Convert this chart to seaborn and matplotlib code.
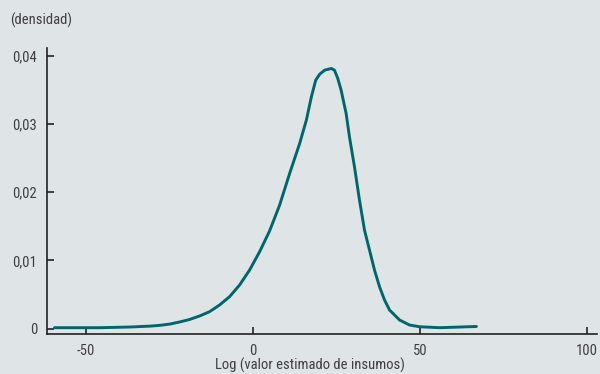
import matplotlib
matplotlib.use("Agg")
import matplotlib.pyplot as plt
import seaborn as sns
import pandas as pd
from matplotlib import font_manager

# data
x_vals = [-59.5, -46.0, -37.0, -31.0, -28.1, -25.0, -22.1, -19.1, -16.1, -13.1, -10.1,
          -7.1, -4.1, -1.1, 1.9, 4.9, 7.9, 10.9, 13.9, 15.9, 17.4, 18.7, 19.9, 21.4,
          23.4, 24.3, 25.3, 26.3, 27.8, 28.8, 30.3, 31.8, 33.3, 34.8, 36.3, 37.8,
          39.3, 40.8, 43.8, 46.8, 49.8, 55.8, 66.8]
densidad = [0.00012, 0.00012, 0.00022, 0.00035, 0.00046, 0.00065, 0.00095, 0.00132,
            0.00183, 0.00246, 0.00344, 0.00466, 0.00637, 0.00857, 0.01125, 0.01431,
            0.0181, 0.02274, 0.02714, 0.03055, 0.03396, 0.03641, 0.03729, 0.03788,
            0.03812, 0.03788, 0.03666, 0.03495, 0.03153, 0.0281, 0.02371, 0.01883,
            0.01443, 0.0115, 0.00857, 0.00612, 0.00418, 0.00271, 0.00125, 0.00051,
            0.00026, 0.00012, 0.0003]
x_ticks = [-50, 0, 50, 100]
x_tick_labels = ["-50", "0", "50", "100"]
y_ticks = [0, 0.01, 0.02, 0.03, 0.04]
y_tick_labels = ["0", "0,01", "0,02", "0,03", "0,04"]

df = pd.DataFrame({"x": x_vals, "y": densidad})

BG = "#dfe4e7"
LINE = "#00666b"
TXT = "#3f3f3f"

sns.set_theme(style="ticks")
names = {f.name for f in font_manager.fontManager.ttflist}
fam = None
for cand in ["Liberation Sans Narrow", "Roboto Condensed", "Open Sans Condensed",
             "Noto Sans Condensed", "DejaVu Sans Condensed"]:
    if cand in names:
        fam = cand
        break
stretch = "normal"
if fam is None:
    fam = "DejaVu Sans"
    stretch = "condensed"
plt.rcParams["font.family"] = [fam, "DejaVu Sans"]
plt.rcParams["font.stretch"] = stretch

fig = plt.figure(figsize=(6.0, 3.74), dpi=100, facecolor=BG)
ax = fig.add_axes([0.078, 0.107, 0.917, 0.765], facecolor=BG)

sns.lineplot(data=df, x="x", y="y", ax=ax, color=LINE, linewidth=2.1, sort=False)

ax.set_xlim(-61.8, 102.9)
ax.set_ylim(-0.0008, 0.04114)
ax.set_xticks(x_ticks)
ax.set_xticklabels(x_tick_labels)
ax.set_yticks(y_ticks)
ax.set_yticklabels(y_tick_labels)
ax.tick_params(direction="in", length=5, width=1.2, colors="#222222",
               labelsize=10.5, labelcolor=TXT, pad=7)
for s in ["top", "right"]:
    ax.spines[s].set_visible(False)
for s in ["left", "bottom"]:
    ax.spines[s].set_linewidth(1.2)
    ax.spines[s].set_color("#222222")
ax.set_xlabel("")
ax.set_ylabel("")

fig.text(10 / 600, 1 - 20 / 374, "(densidad)", fontsize=10.5, color=TXT,
         ha="left", va="center")
fig.text(310 / 600, 1 - 365 / 374, "Log (valor estimado de insumos)", fontsize=10.5,
         color=TXT, ha="center", va="center")

fig.savefig("out.png", dpi=100, facecolor=BG)
